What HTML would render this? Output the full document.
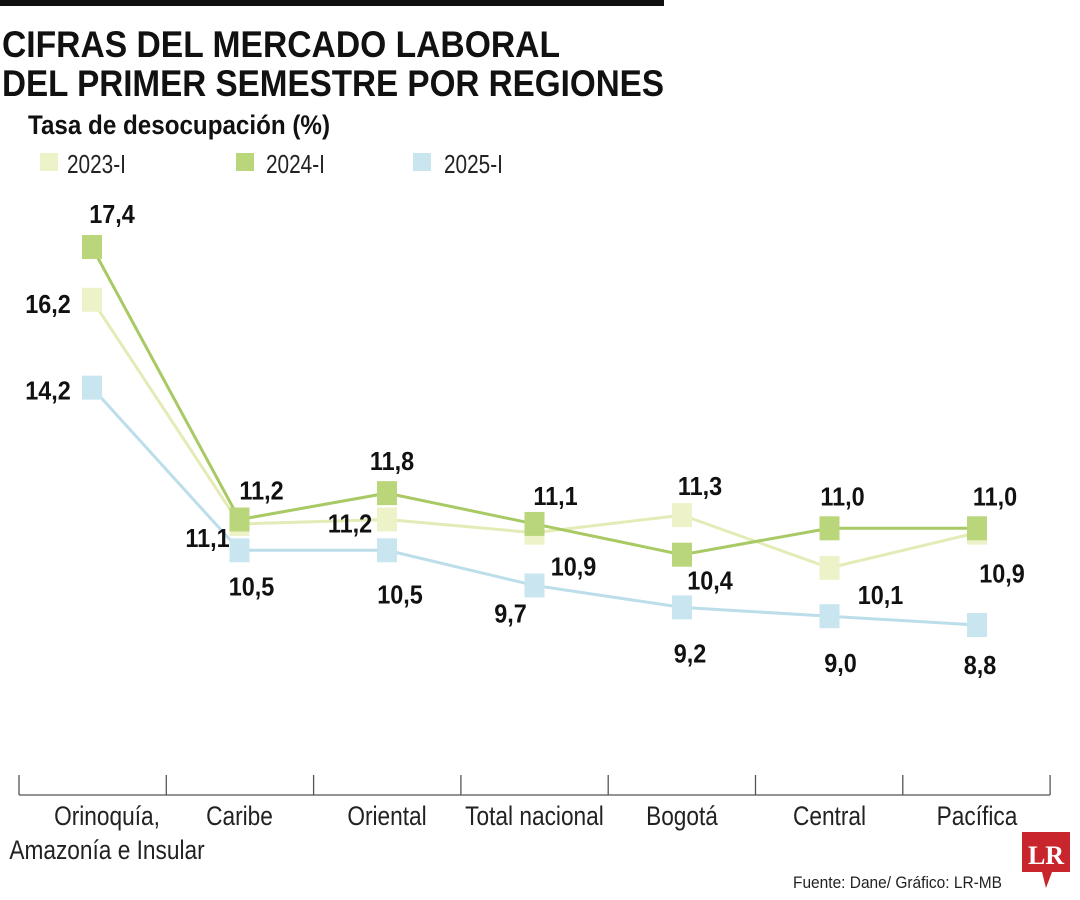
<!DOCTYPE html>
<html><head><meta charset="utf-8"><style>
body{margin:0;background:#fff;}
svg{display:block;}
.t{font-family:"Liberation Sans Narrow","Liberation Sans",sans-serif;}
</style></head><body>
<svg width="1080" height="900">
<rect x="0" y="0" width="664" height="6" fill="#111"/>
<text class="t" x="2" y="57" font-size="37" font-weight="bold" fill="#111" textLength="558" lengthAdjust="spacingAndGlyphs">CIFRAS DEL MERCADO LABORAL</text>
<text class="t" x="2" y="96" font-size="37" font-weight="bold" fill="#111" textLength="662" lengthAdjust="spacingAndGlyphs">DEL PRIMER SEMESTRE POR REGIONES</text>
<text class="t" x="28" y="134" font-size="27" font-weight="bold" fill="#111" textLength="302" lengthAdjust="spacingAndGlyphs">Tasa de desocupación (%)</text>
<g id="legend"></g>
<g id="axis"></g>
<g id="plot"></g>
<text class="t" x="793" y="888" font-size="17" fill="#222" textLength="209" lengthAdjust="spacingAndGlyphs">Fuente: Dane/ Gráfico: LR-MB</text>
<g>
<path d="M1022 832 H1070 V872 H1052 L1046 888 L1042 872 H1022 Z" fill="#c8262c"/>
<text x="1046" y="864" font-family="Liberation Serif,serif" font-weight="bold" font-size="26" fill="#fff" text-anchor="middle">LR</text>
</g>
</svg>
<script>
const categories=["Orinoquía,|Amazonía e Insular","Caribe","Oriental","Total nacional","Bogotá","Central","Pacífica"];
const seriesNames=["2023-I","2024-I","2025-I"];
const s2023=[16.2,11.1,11.2,10.9,11.3,10.1,10.9];
const s2024=[17.4,11.2,11.8,11.1,10.4,11.0,11.0];
const s2025=[14.2,10.5,10.5,9.7,9.2,9.0,8.8];
const NS="http://www.w3.org/2000/svg";
const fills=["#eef2c8","#b9d67a","#c9e6f0"];
const strokes=["#e4ebb6","#a8c964","#bcdeea"];
const offs=[
 [[-44,3],[-32,13],[-37,3],[39,33],[18,-30],[51,26],[25,40]],
 [[20,-34],[22,-30],[5,-33],[21,-29],[28,25],[13,-33],[18,-33]],
 [[-44,2],[12,35],[13,43],[-24,27],[8,45],[11,46],[3,39]]];
function xS(i){return 92+i*147.5;}
function yS(v){return 625-(v-8.8)*43.95;}
function el(t,a,p){const e=document.createElementNS(NS,t);for(const k in a)e.setAttribute(k,a[k]);p.appendChild(e);return e;}
const leg=document.getElementById('legend');
[[40,67],[236,266],[413,444]].forEach((p,i)=>{
 const g=el('g',{},leg);
 
 
 el('rect',{x:p[0],y:153,width:18,height:18,fill:fills[i]},g);
 const t=el('text',{x:p[1],y:173,'font-size':26,fill:'#222','class':'t',transform:'translate('+p[1]+',0) scale(0.8,1) translate('+(-p[1])+',0)'},g);t.textContent=seriesNames[i];
});
const ax=document.getElementById('axis');
el('line',{x1:19,x2:1050,y1:795,y2:795,stroke:'#555','stroke-width':1.3},ax);
for(let i=0;i<=7;i++){el('line',{x1:19+i*147.3,x2:19+i*147.3,y1:775,y2:795,stroke:'#555','stroke-width':1.3},ax);}
categories.forEach((c,i)=>{
 c.split('|').forEach((ln,j)=>{
  const cx=xS(i)+(i==0?15:0);
  const t=el('text',{x:0,y:0,'font-size':27,fill:'#222','text-anchor':'middle','class':'t',transform:'translate('+cx+','+(825+j*34)+') scale(0.84,1)'},ax);
  
  
  t.textContent=ln;});
});
const plot=document.getElementById('plot');
const all=[s2023,s2025,s2024];const idx=[0,2,1];
all.forEach((s,k)=>{const i=idx[k];
 const pl=el('polyline',{points:s.map((v,j)=>xS(j)+','+yS(v)).join(' '),fill:'none',stroke:strokes[i],'stroke-width':3},plot);
 
 
});
all.forEach((s,k)=>{const i=idx[k];
 s.forEach((v,j)=>{
  const r=el('rect',{x:xS(j)-10,y:yS(v)-12,width:20,height:24,fill:fills[i]},plot);
  
  
  const t=el('text',{x:0,y:0,'font-size':26,'font-weight':'bold',fill:'#111','text-anchor':'middle','class':'t',transform:'translate('+(xS(j)+offs[i][j][0])+','+(yS(v)+offs[i][j][1]+10)+') scale(0.9,1)'},plot);
  
  
  t.textContent=v.toFixed(1).replace('.',',');
 });
});
</script>
</body></html>
